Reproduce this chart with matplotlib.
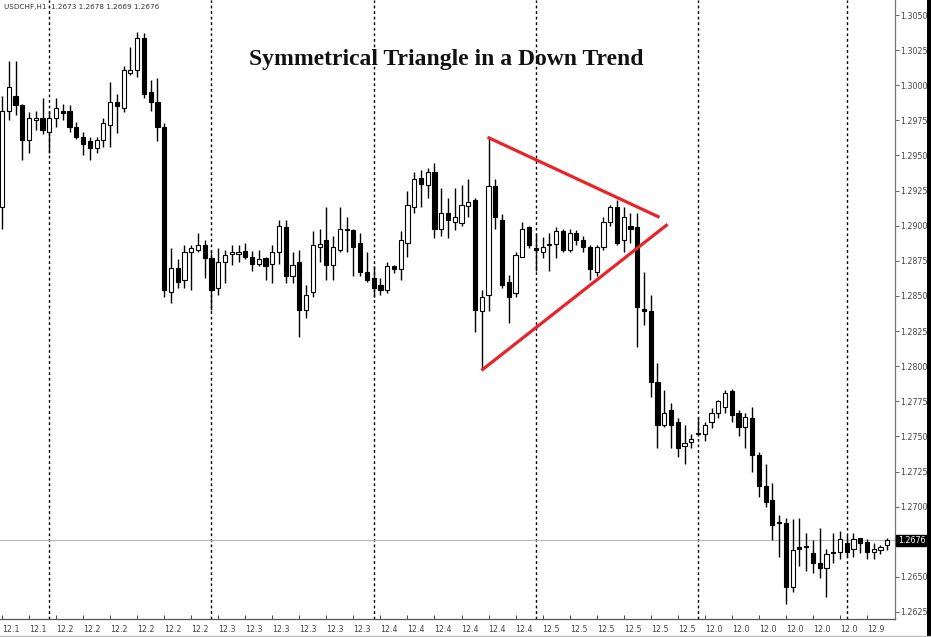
import matplotlib
matplotlib.use("Agg")
import matplotlib.pyplot as plt
from matplotlib.lines import Line2D
from matplotlib.patches import Rectangle

# ---------------- data (USDCHF H1) ----------------
opens = [1.2913, 1.2982, 1.2992, 1.2986, 1.2961, 1.2975, 1.2977, 1.2967, 1.2977, 1.2982,
         1.2982, 1.2970, 1.2963, 1.2960, 1.2955, 1.2961, 1.2972, 1.2988, 1.2984, 1.3009,
         1.3011, 1.3034, 1.2995, 1.2988, 1.2970, 1.2853, 1.2870, 1.2861, 1.2881, 1.2883,
         1.2886, 1.2877, 1.2856, 1.2874, 1.2880, 1.2880, 1.2882, 1.2878, 1.2873, 1.2877,
         1.2873, 1.2881, 1.2899, 1.2864, 1.2874, 1.2840, 1.2853, 1.2885, 1.2890, 1.2872,
         1.2883, 1.2898, 1.2897, 1.2888, 1.2867, 1.2863, 1.2858, 1.2854, 1.2871, 1.2869,
         1.2888, 1.2913, 1.2934, 1.2929, 1.2938, 1.2898, 1.2909, 1.2903, 1.2902, 1.2914,
         1.2918, 1.2839, 1.2851, 1.2928, 1.2904, 1.2860, 1.2852, 1.2878, 1.2899, 1.2884,
         1.2881, 1.2886, 1.2887, 1.2896, 1.2883, 1.2895, 1.2890, 1.2885, 1.2867, 1.2885,
         1.2903, 1.2913, 1.2890, 1.2900, 1.2899, 1.2841, 1.2839, 1.2789, 1.2758, 1.2769,
         1.2760, 1.2743, 1.2746, 1.2752, 1.2752, 1.2760, 1.2767, 1.2771, 1.2782, 1.2767,
         1.2757, 1.2763, 1.2737, 1.2715, 1.2705, 1.2689, 1.2688, 1.2643, 1.2671, 1.2672,
         1.2667, 1.2660, 1.2656, 1.2668, 1.2668, 1.2674, 1.2670, 1.2678, 1.2675, 1.2668,
         1.2669, 1.2673]
highs = [1.2992, 1.3017, 1.3017, 1.2987, 1.2981, 1.2982, 1.2991, 1.2982, 1.2991, 1.2987,
         1.2986, 1.2974, 1.2967, 1.2963, 1.2963, 1.2977, 1.3002, 1.2994, 1.3014, 1.3027,
         1.3038, 1.3037, 1.3004, 1.3005, 1.2973, 1.2884, 1.2876, 1.2886, 1.2886, 1.2895,
         1.2890, 1.2883, 1.2884, 1.2883, 1.2886, 1.2886, 1.2888, 1.2882, 1.2883, 1.2878,
         1.2886, 1.2904, 1.2904, 1.2881, 1.2883, 1.2858, 1.2896, 1.2898, 1.2913, 1.2893,
         1.2913, 1.2906, 1.2898, 1.2895, 1.2881, 1.2871, 1.2863, 1.2874, 1.2872, 1.2896,
         1.2925, 1.2938, 1.2940, 1.2941, 1.2945, 1.2927, 1.2920, 1.2927, 1.2929, 1.2933,
         1.2920, 1.2854, 1.2963, 1.2933, 1.2908, 1.2865, 1.2881, 1.2903, 1.2900, 1.2895,
         1.2892, 1.2895, 1.2899, 1.2898, 1.2898, 1.2897, 1.2893, 1.2886, 1.2886, 1.2906,
         1.2915, 1.2918, 1.2913, 1.2909, 1.2909, 1.2867, 1.2851, 1.2802, 1.2783, 1.2774,
         1.2763, 1.2758, 1.2752, 1.2764, 1.2760, 1.2770, 1.2776, 1.2783, 1.2784, 1.2769,
         1.2767, 1.2771, 1.2739, 1.2730, 1.2717, 1.2694, 1.2692, 1.2691, 1.2692, 1.2681,
         1.2676, 1.2685, 1.2670, 1.2681, 1.2683, 1.2680, 1.2681, 1.2678, 1.2677, 1.2674,
         1.2673, 1.2678]
lows = [1.2898, 1.2975, 1.2979, 1.2947, 1.2952, 1.2968, 1.2965, 1.2952, 1.2970, 1.2975,
        1.2967, 1.2962, 1.2950, 1.2947, 1.2952, 1.2956, 1.2956, 1.2966, 1.2981, 1.3007,
        1.3006, 1.2991, 1.2982, 1.2960, 1.2849, 1.2845, 1.2856, 1.2856, 1.2854, 1.2881,
        1.2863, 1.2840, 1.2851, 1.2859, 1.2872, 1.2874, 1.2876, 1.2868, 1.2871, 1.2861,
        1.2859, 1.2873, 1.2859, 1.2859, 1.2821, 1.2834, 1.2849, 1.2874, 1.2861, 1.2861,
        1.2881, 1.2881, 1.2864, 1.2864, 1.2860, 1.2849, 1.2851, 1.2852, 1.2866, 1.2861,
        1.2878, 1.2909, 1.2913, 1.2920, 1.2891, 1.2893, 1.2891, 1.2897, 1.2900, 1.2906,
        1.2824, 1.2797, 1.2839, 1.2898, 1.2856, 1.2831, 1.2849, 1.2878, 1.2884, 1.2868,
        1.2877, 1.2868, 1.2877, 1.2881, 1.2881, 1.2886, 1.2881, 1.2861, 1.2864, 1.2883,
        1.2900, 1.2886, 1.2881, 1.2888, 1.2814, 1.2829, 1.2778, 1.2742, 1.2757, 1.2742,
        1.2735, 1.2730, 1.2742, 1.2750, 1.2747, 1.2756, 1.2763, 1.2767, 1.2760, 1.2750,
        1.2742, 1.2725, 1.2707, 1.2700, 1.2676, 1.2664, 1.2631, 1.2639, 1.2658, 1.2654,
        1.2653, 1.2649, 1.2636, 1.2660, 1.2663, 1.2664, 1.2664, 1.2667, 1.2663, 1.2663,
        1.2666, 1.2669]
closes = [1.2982, 1.2999, 1.2986, 1.2961, 1.2977, 1.2977, 1.2968, 1.2977, 1.2984, 1.2980,
          1.2970, 1.2963, 1.2958, 1.2955, 1.2961, 1.2973, 1.2988, 1.2985, 1.3011, 1.3011,
          1.3034, 1.2994, 1.2988, 1.2970, 1.2854, 1.2870, 1.2860, 1.2881, 1.2884, 1.2886,
          1.2877, 1.2854, 1.2874, 1.2879, 1.2881, 1.2881, 1.2878, 1.2873, 1.2876, 1.2871,
          1.2881, 1.2900, 1.2864, 1.2872, 1.2840, 1.2851, 1.2886, 1.2887, 1.2872, 1.2885,
          1.2898, 1.2897, 1.2885, 1.2867, 1.2861, 1.2856, 1.2854, 1.2871, 1.2869, 1.2890,
          1.2915, 1.2933, 1.2930, 1.2938, 1.2898, 1.2909, 1.2904, 1.2906, 1.2915, 1.2917,
          1.2840, 1.2849, 1.2928, 1.2906, 1.2858, 1.2849, 1.2879, 1.2898, 1.2886, 1.2883,
          1.2885, 1.2887, 1.2896, 1.2883, 1.2895, 1.2890, 1.2885, 1.2869, 1.2885, 1.2903,
          1.2913, 1.2888, 1.2906, 1.2898, 1.2842, 1.2839, 1.2789, 1.2758, 1.2767, 1.2758,
          1.2742, 1.2745, 1.2748, 1.2752, 1.2758, 1.2767, 1.2775, 1.2781, 1.2765, 1.2757,
          1.2764, 1.2737, 1.2715, 1.2703, 1.2687, 1.2688, 1.2643, 1.2669, 1.2670, 1.2671,
          1.2660, 1.2656, 1.2666, 1.2667, 1.2677, 1.2668, 1.2677, 1.2674, 1.2668, 1.2670,
          1.2671, 1.2676]

xtick_labels = ["12.1", "12.1", "12.2", "12.2", "12.2", "12.2", "12.2", "12.2",
                "12.3", "12.3", "12.3", "12.3", "12.3", "12.3",
                "12.4", "12.4", "12.4", "12.4", "12.4", "12.4",
                "12.5", "12.5", "12.5", "12.5", "12.5", "12.5",
                "12.0", "12.0", "12.0", "12.0", "12.0", "12.0", "12.9"]
separator_bars = [7, 31, 55, 79, 103, 125]
ytick_values = [1.2625, 1.2650, 1.2675, 1.2700, 1.2725, 1.2750, 1.2775, 1.2800, 1.2825,
                1.2850, 1.2875, 1.2900, 1.2925, 1.2950, 1.2975, 1.3000, 1.3025, 1.3050]
current_price = 1.2676
header = "USDCHF,H1  1.2673 1.2678 1.2669 1.2676"
title = "Symmetrical Triangle in a Down Trend"
# triangle lines: (bar index, price)
upper_line = [(71.85, 1.2963), (97.3, 1.2906)]
lower_line = [(70.95, 1.2797), (98.5, 1.2901)]

# ---------------- figure ----------------
W, H = 931, 637
fig = plt.figure(figsize=(W / 100, H / 100), dpi=100)
ax_left, ax_right, ax_top, ax_bottom = 0, 895, 0, 619
ax = fig.add_axes([ax_left / W, (H - ax_bottom) / H, (ax_right - ax_left) / W, (ax_bottom - ax_top) / H])

n = len(opens)
xs = list(range(n))
ax.set_xlim(-2 / 6.75, (895 - 3) / 6.75)
ax.set_ylim(1.2620, 1.30607)

# separators
for s in separator_bars:
    ax.axvline(s, color="black", lw=1.0, linestyle=(0, (2, 2)), zorder=1)

# current price line
ax.axhline(current_price, color="#b8b8b8", lw=0.8, zorder=1)

# candles
ax.vlines(xs, lows, highs, color="black", lw=1.0, zorder=2)
bw = 0.62
for i in xs:
    o, c = opens[i], closes[i]
    bottom = min(o, c)
    height = max(abs(c - o), 0.00005)
    face = "white" if c >= o else "black"
    ax.bar(i, height, bottom=bottom, width=bw, color=face, edgecolor="black",
           linewidth=0.8, zorder=3)

# triangle
red = "#e8242a"
ax.plot([p[0] for p in upper_line], [p[1] for p in upper_line], color=red, lw=2.3,
        solid_capstyle="butt", zorder=4)
ax.plot([p[0] for p in lower_line], [p[1] for p in lower_line], color=red, lw=2.3,
        solid_capstyle="butt", zorder=4)

# axes styling
for sp in ["left", "top"]:
    ax.spines[sp].set_visible(False)
ax.spines["right"].set_color("#777777")
ax.spines["bottom"].set_color("#555555")
ax.spines["right"].set_linewidth(0.9)
ax.spines["bottom"].set_linewidth(0.9)

ax.yaxis.tick_right()
ax.set_yticks(ytick_values)
# the highlighted current-price label replaces the nearby 1.2675 label
ylabels = ["" if abs(v - current_price) < 0.0005 else f"{v:.4f}" for v in ytick_values]
ax.set_yticklabels(ylabels, fontsize=5.7, color="#444444")
ax.tick_params(axis="y", direction="out", length=3, width=0.7, color="#666666", pad=1)

xt = list(range(0, n, 4))
ax.set_xticks(xt)
ax.set_xticklabels(xtick_labels, fontsize=5.7, color="#444444", ha="left")
ax.tick_params(axis="x", direction="in", length=3, width=0.7, color="#444444", pad=4)

# highlighted current price label
ax.text(1.003, current_price, f"{current_price:.4f}", transform=ax.get_yaxis_transform(),
        ha="left", va="center", fontsize=5.7, color="white", zorder=6,
        bbox=dict(boxstyle="square,pad=0.15", fc="black", ec="black"))

# header and title
fig.text(4 / W, 1 - 7 / H, header, fontsize=5.2, color="#333333", ha="left", va="center")
fig.text(446 / W, 1 - 60 / H, title, fontsize=17, fontweight="bold",
         family="Liberation Serif", color="#111111", ha="center", va="center")

# screenshot frame decorations
fig.add_artist(Line2D([0, 1], [1.5 / H, 1.5 / H], color="#bbbbbb", lw=1.0))
fig.add_artist(Rectangle((927 / W, 0), 4 / W, 1, transform=fig.transFigure,
                         color="black", lw=0))

fig.savefig("out.png", dpi=100, facecolor="white")
